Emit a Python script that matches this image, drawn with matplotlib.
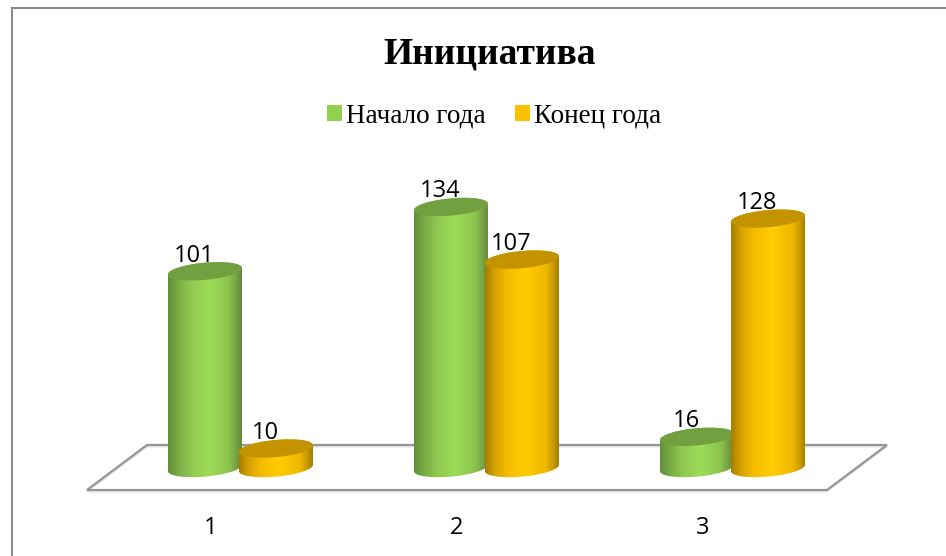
import numpy as np
import matplotlib
matplotlib.use("Agg")
import matplotlib.pyplot as plt
from matplotlib.colors import LinearSegmentedColormap
from matplotlib.lines import Line2D
from matplotlib.patches import Patch, Polygon

title = "Инициатива"
categories = ["1", "2", "3"]
series_names = ["Начало года", "Конец года"]
start_year = [101, 134, 16]
end_year = [10, 107, 128]

W, H = 946, 556
fig = plt.figure(figsize=(W / 100, H / 100), dpi=100, facecolor="white")

def fx(p): return p / W
def fy(p): return 1 - p / H

# axes frame in pixels: the value axis has zero at y=468 px, 1.948 px per unit
L, R, T, B = 86, 887, 130, 490
PXU = 1.948
PXX = 246.0
ax = fig.add_axes([fx(L), fy(B), (R - L) / W, (B - T) / H])
ax.set_xlim(1 + (L - 211) / PXX, 1 + (R - 211) / PXX)
ax.set_ylim((468 - B) / PXU, (468 - T) / PXU)
ax.patch.set_alpha(0)
for s in ax.spines.values():
    s.set_visible(False)
ax.set_yticks([])
ax.set_xticks([1, 2, 3], categories)
ax.tick_params(axis="x", length=0, pad=18.5, labelsize=17, labelfontfamily="Open Sans", labelcolor="black")

# outer chart frame
for xs, ys in [((12, 12), (556, 8)), ((12, 946), (8, 8))]:
    fig.add_artist(Line2D([fx(v) for v in xs], [fy(v) for v in ys], color="#8a8a8a", lw=1.5))

# floor
floor_px = [(87, 490), (827, 490), (887, 445), (147, 445)]
fig.add_artist(Polygon([(fx(a), fy(b + 1.5)) for a, b in floor_px], closed=True, fill=False,
                       edgecolor="#e6e6e6", lw=1.5, transform=fig.transFigure, zorder=0.9))
fig.add_artist(Polygon([(fx(a), fy(b)) for a, b in floor_px], closed=True, fill=False,
                       edgecolor="#969696", lw=1.6, transform=fig.transFigure, zorder=1))
ax.set_zorder(2)

green = LinearSegmentedColormap.from_list("g", [(0, "#628d3a"), (0.12, "#76a843"), (0.3, "#8fc850"), (0.55, "#9ddd58"), (0.82, "#8cc44e"), (0.93, "#74a044"), (1, "#62893a")])
orange = LinearSegmentedColormap.from_list("o", [(0, "#a47c00"), (0.12, "#d39f00"), (0.3, "#f5bc00"), (0.55, "#ffcc00"), (0.82, "#f0b800"), (0.93, "#c89800"), (1, "#a07a00")])

HALF_W = 37.0 / PXX          # cylinder half width
SEMI = 8.6 / PXU             # ellipse half height
TILT = 3.2 / PXU             # ellipse tilt
SHIFT = 29.5 / PXX           # perspective shift of the group from its tick
OFFS = 35.5 / PXX            # bar offset from group centre
t = np.linspace(0, 2 * np.pi, 181)
grad = np.linspace(0, 1, 256)[None, :]

def ellipse(cx, cy, tt):
    return cx + HALF_W * np.cos(tt), cy + SEMI * np.sin(tt) + TILT * np.cos(tt)

def cylinder(cx, v, cmap, top, z):
    tt = np.linspace(np.pi, 2 * np.pi, 91)
    bx, by = ellipse(cx, 0, tt)
    tx, ty = ellipse(cx, v, np.linspace(0, np.pi, 91))
    poly = Polygon(np.column_stack([np.r_[bx, tx], np.r_[by, ty]]), closed=True, transform=ax.transData,
                   facecolor="none", edgecolor="none")
    ax.add_patch(poly)
    im = ax.imshow(grad, cmap=cmap, aspect="auto", extent=[cx - HALF_W, cx + HALF_W, -2 * SEMI - TILT, v + 2 * SEMI],
                   zorder=z, interpolation="bilinear")
    im.set_clip_path(poly)
    ex, ey = ellipse(cx, v, t)
    ax.fill(ex, ey, color=top, zorder=z + 0.1, lw=0, clip_on=False)
    ax.annotate(str(v), (cx, v), xytext=(-8, 7), textcoords="offset points", ha="center", va="baseline",
                fontsize=17, family="Open Sans", color="black", zorder=20, annotation_clip=False)

xlim, ylim = ax.get_xlim(), ax.get_ylim()
for i in range(len(categories)):
    c = i + 1 + SHIFT
    cylinder(c - OFFS, start_year[i], green, "#72a041", 3 + i * 2)
    cylinder(c + OFFS, end_year[i], orange, "#c49400", 4 + i * 2)
ax.set_xlim(xlim)
ax.set_ylim(ylim)

fig.text(fx(490), fy(64), title, family="Liberation Serif", weight="bold", fontsize=27,
         ha="center", va="baseline", color="black")

handles = [Patch(facecolor="#92d050", edgecolor="none"), Patch(facecolor="#ffc000", edgecolor="none")]
fig.legend(handles, series_names, loc="center", bbox_to_anchor=(fx(494), fy(116)), ncol=2, frameon=False,
           prop={"family": "Liberation Serif", "size": 19.5}, handlelength=0.55, handleheight=0.55,
           handletextpad=0.15, columnspacing=1.07, borderpad=0, labelcolor="black")

fig.savefig("out.png", dpi=100, facecolor="white")
